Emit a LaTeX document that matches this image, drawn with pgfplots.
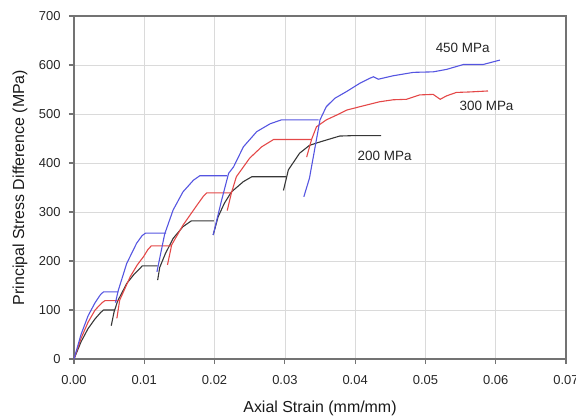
\documentclass[border=0pt]{standalone}
\usepackage{pgfplots}
\pgfplotsset{compat=1.18}
\usepackage{fontspec}
\setmainfont{Liberation Sans}
\definecolor{cblue}{RGB}{85,85,225}
\definecolor{cred}{RGB}{228,72,72}
\definecolor{cblack}{RGB}{55,55,55}
\definecolor{frame}{RGB}{115,115,115}
\definecolor{gridc}{RGB}{218,218,218}
\begin{document}
\begin{tikzpicture}
\begin{axis}[
  scale only axis,
  width=492bp, height=343bp,
  xmin=0, xmax=0.07, ymin=0, ymax=700,
  xtick={0,0.01,...,0.07}, ytick={0,100,...,700},
  scaled x ticks=false,
  xticklabel style={/pgf/number format/.cd, fixed, fixed zerofill, precision=2, /tikz/.cd, yshift=-8bp},
  yticklabel style={xshift=-5bp},
  /pgf/number format/assume math mode=true,
  tick label style={font=\fontsize{13}{15}\selectfont, text=black!85},
  xlabel={Axial Strain (mm/mm)},
  ylabel={Principal Stress Difference (MPa)},
  every axis x label/.style={at={([yshift=-49bp]rel axis cs:0.5,0)}, anchor=center, font=\fontsize{16}{18}\selectfont, text=black!90},
  every axis y label/.style={at={([xshift=-54bp]rel axis cs:0,0.5)}, anchor=center, rotate=90, font=\fontsize{16}{18}\selectfont, text=black!90},
  grid=major,
  major grid style={gridc, line width=0.6pt},
  axis line style={frame, line width=1.3pt},
  tick style={frame, line width=1.1pt},
  tick align=outside,
  major tick length=5bp,
  xtick pos=bottom, ytick pos=left,
  every axis plot/.append style={line width=1.1pt},
]
% 200 MPa (black)
\addplot[cblack] coordinates {(0,0) (0.001,35) (0.002,62) (0.003,82) (0.0038,95) (0.0042,100) (0.0058,100)};
\addplot[cblack] coordinates {(0.0053,68) (0.0057,96) (0.0062,118) (0.0075,154) (0.0085,172) (0.0094,185) (0.0097,190) (0.0119,190)};
\addplot[cblack] coordinates {(0.0119,161) (0.0122,187) (0.013,215) (0.0141,246) (0.0155,270) (0.0167,282) (0.0199,282)};
\addplot[cblack] coordinates {(0.0198,253) (0.0205,290) (0.0214,318) (0.0224,341) (0.0241,362) (0.0253,372) (0.0302,372)};
\addplot[cblack] coordinates {(0.0298,344) (0.0305,386) (0.0321,420) (0.0335,436) (0.035,443) (0.0378,455) (0.04,456) (0.0437,456)};
% 300 MPa (red)
\addplot[cred] coordinates {(0,0) (0.001,42) (0.002,75) (0.003,100) (0.004,115) (0.0044,119) (0.0064,119)};
\addplot[cred] coordinates {(0.0061,83) (0.0065,120) (0.008,168) (0.009,192) (0.0099,209) (0.0105,223) (0.011,231) (0.0139,231)};
\addplot[cred] coordinates {(0.0133,192) (0.0139,233) (0.0155,273) (0.0175,314) (0.0184,332) (0.0189,339) (0.0224,339)};
\addplot[cred] coordinates {(0.0218,303) (0.0224,339) (0.0231,372) (0.025,410) (0.0267,433) (0.0284,448) (0.0338,448)};
\addplot[cred] coordinates {(0.0331,412) (0.0338,448) (0.0345,474) (0.0359,488) (0.0374,498) (0.0388,508) (0.0407,515) (0.0435,525) (0.0454,529) (0.0473,530) (0.0492,539) (0.0511,540) (0.0521,530) (0.053,537) (0.0544,544) (0.0563,545) (0.0589,547)};
% 450 MPa (blue)
\addplot[cblue] coordinates {(0,0) (0.001,50) (0.002,88) (0.003,115) (0.0038,132) (0.0042,137) (0.0063,137)};
\addplot[cblue] coordinates {(0.0059,115) (0.0063,140) (0.0075,195) (0.0089,236) (0.0097,252) (0.0102,257) (0.0131,257)};
\addplot[cblue] coordinates {(0.0118,178) (0.0129,255) (0.0141,304) (0.0155,341) (0.017,365) (0.0179,374) (0.0218,374)};
\addplot[cblue] coordinates {(0.0198,253) (0.021,324) (0.022,379) (0.0227,392) (0.0241,433) (0.026,464) (0.0279,480) (0.0295,488) (0.0348,488)};
\addplot[cblue] coordinates {(0.0327,331) (0.0335,369) (0.035,488) (0.0359,515) (0.0371,532) (0.0388,546) (0.0407,563) (0.0421,573) (0.0426,576) (0.0433,571) (0.0454,578) (0.0483,585) (0.0511,586) (0.053,591) (0.0554,601) (0.0582,601) (0.0606,610)};
\node[font=\fontsize{13.5}{16}\selectfont, text=black!85] at (axis cs:0.0553,635) {450 MPa};
\node[font=\fontsize{13.5}{16}\selectfont, text=black!85] at (axis cs:0.0587,516) {300 MPa};
\node[font=\fontsize{13.5}{16}\selectfont, text=black!85] at (axis cs:0.0442,414) {200 MPa};
\end{axis}
\pgfresetboundingbox
\path ([xshift=-74bp,yshift=-59bp]current axis.south west) rectangle ([xshift=10bp,yshift=16bp]current axis.north east);
\end{tikzpicture}
\end{document}
